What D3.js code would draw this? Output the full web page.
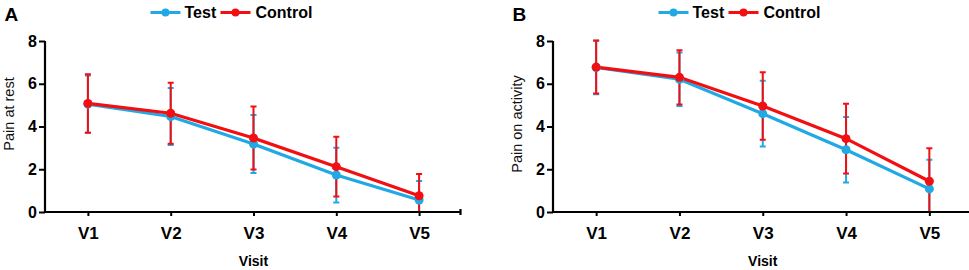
<!DOCTYPE html>
<html>
<head>
<meta charset="utf-8">
<script src="https://cdn.jsdelivr.net/npm/d3@7"></script>
<style>
  html, body { margin: 0; padding: 0; background: #fff; }
  svg { display: block; font-family: Arial, "Liberation Sans", sans-serif; }
</style>
</head>
<body>
<svg id="chart" width="969" height="270"></svg>
<script>
const visits = ["V1", "V2", "V3", "V4", "V5"];
const yTicks = [0, 2, 4, 6, 8];
const seriesNames = ["Test", "Control"];

const restTestMean = [5.05, 4.47, 3.18, 1.73, 0.56];
const restTestSD = [1.34, 1.33, 1.36, 1.28, 0.89];
const restControlMean = [5.08, 4.62, 3.46, 2.12, 0.76];
const restControlSD = [1.37, 1.43, 1.47, 1.40, 1.02];

const actTestMean = [6.76, 6.21, 4.60, 2.91, 1.08];
const actTestSD = [1.25, 1.25, 1.54, 1.53, 1.36];
const actControlMean = [6.78, 6.30, 4.96, 3.43, 1.44];
const actControlSD = [1.24, 1.27, 1.58, 1.63, 1.54];

const colors = { Test: "#20a9e4", Control: "#f20f12" };

const svg = d3.select("#chart");

function panel(opts) {
  const { x0, x1, letter, ylabel, ylabelY, test, testSD, control, controlSD, id } = opts;
  const yTop = 41, yBot = 212;
  const x = d3.scalePoint().domain(visits).range([x0, x1]).padding(0.5);
  const y = d3.scaleLinear().domain([0, 8]).range([yBot, yTop]);
  const g = svg.append("g");

  // panel letter
  g.append("text").attr("x", x0 - 42).attr("y", 21)
    .attr("font-size", 19).attr("font-weight", "bold").text(letter);

  // legend
  const lx = x0 + 104;
  const legendItems = [
    { name: "Test", lineX: lx, textX: lx + 34 },
    { name: "Control", lineX: lx + 70, textX: lx + 105 }
  ];
  legendItems.forEach(it => {
    g.append("line").attr("x1", it.lineX).attr("x2", it.lineX + 30)
      .attr("y1", 12.5).attr("y2", 12.5)
      .attr("stroke", colors[it.name]).attr("stroke-width", 3);
    g.append("circle").attr("cx", it.lineX + 15).attr("cy", 12.5).attr("r", 4)
      .attr("fill", colors[it.name]);
    g.append("text").attr("x", it.textX).attr("y", 18)
      .attr("font-size", 16).attr("font-weight", "bold").text(it.name);
  });

  // axes
  const yAxis = g.append("g").attr("transform", `translate(${x0 - 1.5},0)`)
    .call(d3.axisLeft(y).tickValues(yTicks).tickSize(6).tickPadding(2).tickFormat(d3.format("d")));
  yAxis.select(".domain").attr("d", `M0,${yTop}V${yBot}`);
  const xAxis = g.append("g").attr("transform", `translate(0,${yBot})`)
    .call(d3.axisBottom(x).tickSize(4).tickPadding(11));
  xAxis.select(".domain").attr("d", `M${x0 - 2.5},0H${x1}M${x1},-3V3`);
  [yAxis, xAxis].forEach(a => {
    a.selectAll(".domain").attr("stroke", "#000").attr("stroke-width", 2.2);
    a.selectAll(".tick line").attr("stroke", "#000").attr("stroke-width", 2);
    a.selectAll(".tick text").attr("fill", "#000").attr("font-weight", "bold")
      .attr("font-family", "Arial, 'Liberation Sans', sans-serif");
  });
  yAxis.selectAll(".tick text").attr("font-size", 16);
  xAxis.selectAll(".tick text").attr("font-size", 17);

  // axis titles
  g.append("text").attr("transform", `translate(${x0 - 33},${ylabelY}) rotate(-90)`)
    .attr("text-anchor", "middle").attr("font-size", 14.5).attr("fill", "#111")
    .text(ylabel);
  g.append("text").attr("x", x(visits[2])).attr("y", 266)
    .attr("text-anchor", "middle").attr("font-size", 14).attr("font-weight", "bold")
    .text("Visit");

  // clip
  svg.append("clipPath").attr("id", id).append("rect")
    .attr("x", x0 - 10).attr("y", yTop - 5).attr("width", x1 - x0 + 20).attr("height", yBot - yTop + 4);
  const plot = g.append("g").attr("clip-path", `url(#${id})`);

  const series = [
    { name: "Test", mean: test, sd: testSD },
    { name: "Control", mean: control, sd: controlSD }
  ];
  // error bars
  series.forEach(s => {
    const c = colors[s.name];
    visits.forEach((v, i) => {
      const cx = x(v);
      const hi = y(s.mean[i] + s.sd[i]), lo = y(s.mean[i] - s.sd[i]);
      plot.append("line").attr("x1", cx).attr("x2", cx).attr("y1", hi).attr("y2", lo)
        .attr("stroke", c).attr("stroke-width", 2);
      [hi, lo].forEach(yy => plot.append("line").attr("x1", cx - 3).attr("x2", cx + 3)
        .attr("y1", yy).attr("y2", yy).attr("stroke", c).attr("stroke-width", 2));
    });
  });
  // lines
  const line = d3.line().x((d, i) => x(visits[i])).y(d => y(d));
  series.forEach(s => {
    plot.append("path").datum(s.mean).attr("d", line).attr("fill", "none")
      .attr("stroke", colors[s.name]).attr("stroke-width", 3.2);
  });
  // points
  series.forEach(s => {
    plot.selectAll(null).data(s.mean).enter().append("circle")
      .attr("cx", (d, i) => x(visits[i])).attr("cy", d => y(d)).attr("r", 4.5)
      .attr("fill", colors[s.name]);
  });
}

panel({ x0: 46.5, x1: 460.5, letter: "A", ylabel: "Pain at rest", ylabelY: 114,
  test: restTestMean, testSD: restTestSD, control: restControlMean, controlSD: restControlSD, id: "clipA" });
panel({ x0: 554.5, x1: 971, letter: "B", ylabel: "Pain on activity", ylabelY: 124,
  test: actTestMean, testSD: actTestSD, control: actControlMean, controlSD: actControlSD, id: "clipB" });
</script>
</body>
</html>
